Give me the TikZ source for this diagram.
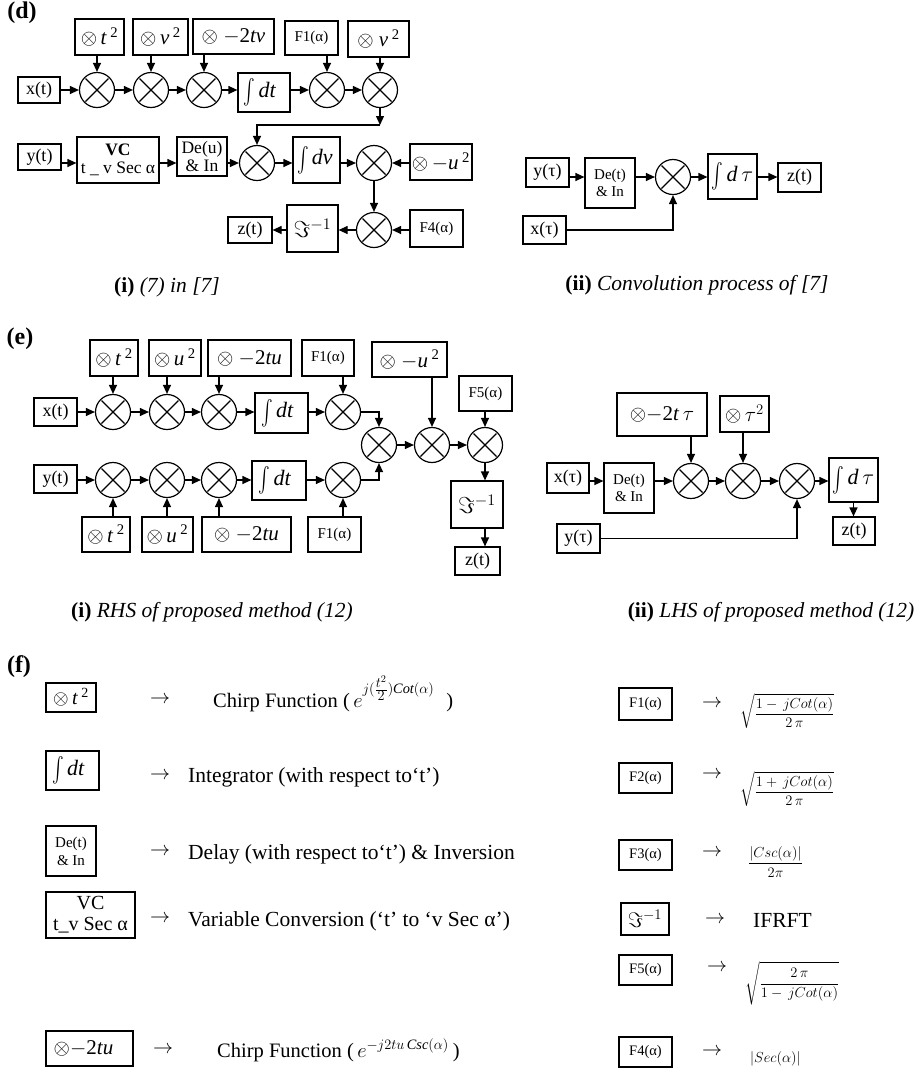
\documentclass[tikz,border=0pt]{standalone}
\usepackage{fix-cm}
\usepackage{exscale}
\usepackage{graphicx}
\usepackage{fontspec}
\setmainfont{Liberation Serif}
\usetikzlibrary{arrows.meta,calc}
\newcommand\fs[2]{\fontsize{#1}{#2}\selectfont}
\newcommand\ox{$\otimes$}
\newcommand\intg{\raisebox{-4pt}{\fontsize{34}{34}\selectfont\scalebox{0.7}[1]{$\int$}}}
\tikzset{
 box/.style={draw,line width=1.2pt,inner sep=0pt,align=center},
 mult/.style={draw,circle,line width=1.2pt,minimum size=35pt,inner sep=0pt,
   path picture={\draw[line width=1.2pt]
     ($(path picture bounding box.center)+(-11.5pt,-11.5pt)$) -- ($(path picture bounding box.center)+(11.5pt,11.5pt)$)
     ($(path picture bounding box.center)+(-11.5pt,11.5pt)$) -- ($(path picture bounding box.center)+(11.5pt,-11.5pt)$);}},
 arr/.style={line width=1.2pt,-{Triangle[length=9pt,width=8pt]}},
 txt/.style={inner sep=0pt,anchor=base west},
 captext/.style={inner sep=0pt,font=\fs{21.5}{24}},
 lbl/.style={inner sep=0pt,font=\fs{24}{27}\bfseries},
 rarrow/.style={inner sep=0pt,font=\fs{20}{23}},
 formula/.style={inner sep=0pt,anchor=west,font=\fs{14.5}{17}},
}
\newcommand\bxx[7]{%
  \pgfmathsetmacro\bcx{(#3+#5)/2}%
  \pgfmathsetmacro\bcy{(#4+#6)/2}%
  \pgfmathsetmacro\bw{#5-#3}%
  \pgfmathsetmacro\bh{#6-#4}%
  \node[box,minimum width=\bw pt,minimum height=\bh pt,#1] (#2) at (\bcx,\bcy) {#7};}
\newcommand\mul[3]{\node[mult] (#1) at (#2,#3) {};}
\newcommand\hr[3]{\draw[arr] (#1.east |- #3) -- (#2.west |- #3);}
\newcommand\hl[3]{\draw[arr] (#1.west |- #3) -- (#2.east |- #3);}
\newcommand\vd[2]{\draw[arr] (#2 |- #1.south) -- (#2.north);}
\newcommand\vu[2]{\draw[arr] (#2 |- #1.north) -- (#2.south);}
\begin{document}
\begin{tikzpicture}[x=1pt,y=-1pt]
\path[fill=white,use as bounding box] (0,0) rectangle (920,1072);
% ================= (d) (i) =================
\node[lbl] (lblD) at (22,13) {(d)};
\coordinate (rA) at (0,90);
\coordinate (rB) at (0,163);
\coordinate (rC) at (0,230);
\bxx{font=\fs{21}{24}}{dT1}{75}{19}{124}{55}{\ox\,\textit{t}\,\textsuperscript{2}}
\bxx{font=\fs{21}{24}}{dT2}{133}{19}{188}{55}{\ox\,\textit{v}\,\textsuperscript{2}}
\bxx{font=\fs{21}{24}}{dT3}{193}{19}{274}{54}{\ox\ $-$2\textit{tv}}
\bxx{font=\fs{15}{17}}{dT4}{285}{21}{338}{55}{F1(α)}
\bxx{font=\fs{21}{24}}{dT5}{348}{21}{409}{57}{\ox\ \textit{v}\,\textsuperscript{2}}
\bxx{font=\fs{18}{20}}{dx}{18}{77}{60}{103}{x(t)}
\mul{c1}{97}{90}
\mul{c2}{151}{90}
\mul{c3}{204}{90}
\bxx{font=\fs{22}{24}}{dI1}{238}{73}{290}{112}{\intg\hspace{3pt}\textit{dt}\hspace{8pt}}
\mul{c4}{327}{90}
\mul{c5}{380}{90}
\bxx{font=\fs{18}{20}}{dy}{18}{144}{61}{170}{y(t)}
\bxx{font=\fs{17.5}{18.5}}{dVC}{77}{137}{159}{183}{\textbf{VC}\\t \_ v Sec α}
\bxx{font=\fs{17.5}{18.5}}{dDe}{177}{137}{227}{176}{De(u)\\\& In}
\mul{c6}{257}{163}
\bxx{font=\fs{22}{24}}{dI2}{293}{137}{340}{183}{\intg\hspace{3pt}\textit{dv}\hspace{3pt}}
\mul{c7}{374}{163}
\bxx{font=\fs{21}{24}}{dU}{410}{144}{472}{180}{\ox\,$-$\textit{u}\,\textsuperscript{2}}
\bxx{font=\fs{18}{20}}{dZ}{228}{217}{272}{243}{z(t)}
\bxx{font=\fs{23}{25}}{dF}{287}{205}{338}{252}{$\Im^{-1}$}
\mul{c8}{374}{230}
\bxx{font=\fs{15}{17}}{dF4}{410}{210}{463}{247}{F4(α)}
\hr{dx}{c1}{rA}
\hr{c1}{c2}{rA}
\hr{c2}{c3}{rA}
\hr{c3}{dI1}{rA}
\hr{dI1}{c4}{rA}
\hr{c4}{c5}{rA}
\vd{dT1}{c1}
\vd{dT2}{c2}
\vd{dT3}{c3}
\vd{dT4}{c4}
\vd{dT5}{c5}
\coordinate (dk) at (380,125);
\draw[arr] (c5.south) -- (dk);
\draw[arr] (dk) -| (c6.north);
\hr{dy}{dVC}{rB}
\hr{dVC}{dDe}{rB}
\hr{dDe}{c6}{rB}
\hr{c6}{dI2}{rB}
\hr{dI2}{c7}{rB}
\hl{dU}{c7}{rB}
\draw[arr] (c7.south) -- (c8.north);
\hl{dF4}{c8}{rC}
\hl{c8}{dF}{rC}
\hl{dF}{dZ}{rC}
% ================= (d) (ii) =================
\coordinate (rE) at (0,177);
\bxx{font=\fs{18}{20}}{ey}{526}{158}{569}{187}{y(τ)}
\bxx{font=\fs{15}{16.5}}{eDe}{585}{158}{635}{208}{De(t)\\\& In}
\mul{c9}{673}{177}
\bxx{font=\fs{22}{24}}{eI}{708}{154}{757}{199}{\intg\hspace{3pt}\textit{d}\,$\tau$}
\bxx{font=\fs{18}{20}}{eZ}{778}{163}{821}{192}{z(t)}
\bxx{font=\fs{18}{20}}{ex}{523}{216}{566}{244}{x(τ)}
\hr{ey}{eDe}{rE}
\hr{eDe}{c9}{rE}
\hr{c9}{eI}{rE}
\hr{eI}{eZ}{rE}
\draw[arr] (ex.east) -| (c9.south);
\node[captext] (capDi) at (167,287) {\textbf{(i)} \textit{(7) in [7]}};
\node[captext] (capDii) at (697,285) {\textbf{(ii)} \textit{Convolution process of [7]}};
% ================= (e) (i) =================
\node[lbl] (lblE) at (20,339) {(e)};
\coordinate (rF) at (0,412);
\coordinate (rG) at (0,480);
\coordinate (rH) at (0,445);
\bxx{font=\fs{21}{24}}{fT1}{90}{340}{138}{376}{\ox\,\textit{t}\,\textsuperscript{2}}
\bxx{font=\fs{21}{24}}{fT2}{149}{340}{201}{376}{\ox\,\textit{u}\,\textsuperscript{2}}
\bxx{font=\fs{21}{24}}{fT3}{208}{340}{291}{376}{\ox\ $-$2\textit{tu}}
\bxx{font=\fs{15}{17}}{fT4}{302}{340}{354}{376}{F1(α)}
\bxx{font=\fs{18}{20}}{fx}{34}{398}{77}{426}{x(t)}
\mul{f1}{113}{412}
\mul{f2}{167}{412}
\mul{f3}{219}{412}
\bxx{font=\fs{22}{24}}{fI1}{255}{393}{308}{433}{\intg\hspace{3pt}\textit{dt}\hspace{8pt}}
\mul{f4}{343}{412}
\bxx{font=\fs{18}{20}}{fy}{34}{465}{77}{493}{y(t)}
\mul{g1}{113}{480}
\mul{g2}{167}{480}
\mul{g3}{219}{480}
\bxx{font=\fs{22}{24}}{fI2}{252}{461}{306}{500}{\intg\hspace{3pt}\textit{dt}\hspace{8pt}}
\mul{g4}{343}{480}
\bxx{font=\fs{21}{24}}{fB1}{82}{517}{130}{552}{\ox\,\textit{t}\,\textsuperscript{2}}
\bxx{font=\fs{21}{24}}{fB2}{142}{517}{193}{552}{\ox\,\textit{u}\,\textsuperscript{2}}
\bxx{font=\fs{21}{24}}{fB3}{202}{517}{291}{552}{\ox\ $-$2\textit{tu}}
\bxx{font=\fs{15}{17}}{fB4}{308}{517}{361}{552}{F1(α)}
\mul{h1}{379}{445}
\mul{h2}{432}{445}
\mul{h3}{485}{445}
\bxx{font=\fs{21}{24}}{fU}{372}{342}{447}{377}{\ox\ $-$\textit{u}\,\textsuperscript{2}}
\bxx{font=\fs{15}{17}}{fF5}{459}{376}{512}{411}{F5(α)}
\bxx{font=\fs{23}{25}}{fFi}{451}{481}{503}{528}{$\Im^{-1}$}
\bxx{font=\fs{18}{20}}{fZ}{455}{547}{500}{575}{z(t)}
\hr{fx}{f1}{rF}
\hr{f1}{f2}{rF}
\hr{f2}{f3}{rF}
\hr{f3}{fI1}{rF}
\hr{fI1}{f4}{rF}
\hr{fy}{g1}{rG}
\hr{g1}{g2}{rG}
\hr{g2}{g3}{rG}
\hr{g3}{fI2}{rG}
\hr{fI2}{g4}{rG}
\vd{fT1}{f1}
\vd{fT2}{f2}
\vd{fT3}{f3}
\vd{fT4}{f4}
\vu{fB1}{g1}
\vu{fB2}{g2}
\vu{fB3}{g3}
\vu{fB4}{g4}
\draw[arr] (f4.east) -| (h1.north);
\draw[arr] (g4.east) -| (h1.south);
\hr{h1}{h2}{rH}
\hr{h2}{h3}{rH}
\vd{fU}{h2}
\vd{fF5}{h3}
\draw[arr] (h3.south) -- (h3 |- fFi.north);
\draw[arr] (h3 |- fFi.south) -- (h3 |- fZ.north);
% ================= (e) (ii) =================
\coordinate (rK) at (0,481);
\bxx{font=\fs{21}{24}}{kT1}{617}{393}{707}{436}{\ox$-$2\textit{t}\,$\tau$}
\bxx{font=\fs{21}{24}}{kT2}{720}{396}{769}{432}{\ox\,$\tau^{2}$}
\bxx{font=\fs{18}{20}}{kx}{547}{463}{589}{493}{x(τ)}
\bxx{font=\fs{15}{16.5}}{kDe}{604}{463}{654}{513}{De(t)\\\& In}
\mul{k1}{691}{481}
\mul{k2}{743}{481}
\mul{k3}{797}{481}
\bxx{font=\fs{22}{24}}{kI}{829}{458}{878}{502}{\intg\hspace{3pt}\textit{d}\,$\tau$}
\bxx{font=\fs{18}{20}}{kZ}{833}{517}{875}{545}{z(t)}
\bxx{font=\fs{18}{20}}{ky}{557}{524}{600}{553}{y(τ)}
\hr{kx}{kDe}{rK}
\hr{kDe}{k1}{rK}
\hr{k1}{k2}{rK}
\hr{k2}{k3}{rK}
\hr{k3}{kI}{rK}
\vd{kT1}{k1}
\vd{kT2}{k2}
\draw[arr] (ky.east) -| (k3.south);
\draw[arr] (kI.south) -- (kI.south |- kZ.north);
\node[captext] (capEi) at (212,612) {\textbf{(i)} \textit{RHS of proposed method (12)}};
\node[captext] (capEii) at (771,612) {\textbf{(ii)} \textit{LHS of proposed method (12)}};
% ================= (f) =================
\node[lbl] (lblF) at (19,667) {(f)};
\bxx{font=\fs{20}{23}}{L1}{46}{683}{96}{712}{\ox\,\textit{t}\,\textsuperscript{2}}
\bxx{font=\fs{22}{24}}{L2}{46}{751}{99}{790}{\intg\hspace{3pt}\textit{dt}\hspace{8pt}}
\bxx{font=\fs{15}{18}}{L3}{46}{826}{96}{876}{De(t)\\\& In}
\bxx{font=\fs{20}{21}}{L4}{46}{892}{135}{938}{VC\\t\_v Sec α}
\bxx{font=\fs{21}{24}}{L5}{46}{1031}{133}{1066}{\ox$-$2\textit{tu}\hspace{12pt}}
\node[rarrow] (la1) at (160,700) {$\rightarrow$};
\node[rarrow] (la2) at (160,776) {$\rightarrow$};
\node[rarrow] (la3) at (160,852) {$\rightarrow$};
\node[rarrow] (la4) at (160,919) {$\rightarrow$};
\node[rarrow] (la5) at (163,1050) {$\rightarrow$};
\node[txt,font=\fs{20.5}{23}] (lt1) at (213,707) {Chirp Function (\,$e^{\mbox{\raisebox{6pt}{$\scriptstyle j(\frac{\scriptstyle t^2}{\scriptstyle 2})\mathit{Cot}(\alpha)$}}}$\hspace{12pt})};
\node[txt,font=\fs{21.5}{24}] (lt2) at (188,782) {Integrator (with respect to‘t’)};
\node[txt,font=\fs{21.5}{24}] (lt3) at (188,859) {Delay (with respect to‘t’) \& Inversion};
\node[txt,font=\fs{21.5}{24}] (lt4) at (188,926) {Variable Conversion (‘t’ to ‘v Sec α’)};
\node[txt,font=\fs{20.5}{23}] (lt5) at (217,1057) {Chirp Function (\,$e^{-j2tu\,\mathit{Csc}(\alpha)}$\hspace{4pt})};
% right column
\bxx{font=\fs{14.5}{17}}{R1}{619}{688}{672}{720}{F1(α)}
\bxx{font=\fs{14.5}{17}}{R2}{619}{763}{672}{793}{F2(α)}
\bxx{font=\fs{14.5}{17}}{R3}{619}{840}{672}{870}{F3(α)}
\bxx{font=\fs{21}{23}}{R4}{621}{903}{669}{935}{$\Im^{-1}$}
\bxx{font=\fs{14.5}{17}}{R5}{619}{955}{672}{985}{F5(α)}
\bxx{font=\fs{14.5}{17}}{R6}{619}{1037}{672}{1067}{F4(α)}
\node[rarrow] (ra1) at (712,704) {$\rightarrow$};
\node[rarrow] (ra2) at (712,775) {$\rightarrow$};
\node[rarrow] (ra3) at (712,853) {$\rightarrow$};
\node[rarrow] (ra4) at (715,920) {$\rightarrow$};
\node[rarrow] (ra5) at (717,968) {$\rightarrow$};
\node[rarrow] (ra6) at (712,1052) {$\rightarrow$};
\node[formula] (rf1) at (740,711) {$\displaystyle\sqrt{\frac{1-\,jCot(\alpha)}{2\,\pi}}$};
\node[formula] (rf2) at (740,789) {$\displaystyle\sqrt{\frac{1+\,jCot(\alpha)}{2\,\pi}}$};
\node[formula] (rf3) at (748,862) {$\displaystyle\frac{\left|Csc(\alpha)\right|}{2\pi}$};
\node[txt,font=\fs{21.5}{24}] (rf4) at (753,927) {IFRFT};
\node[formula] (rf5) at (745,983) {$\displaystyle\sqrt{\frac{2\,\pi}{1-\,jCot(\alpha)}}$};
\node[formula] (rf6) at (750,1059) {$\left|Sec(\alpha)\right|$};
\end{tikzpicture}
\end{document}
